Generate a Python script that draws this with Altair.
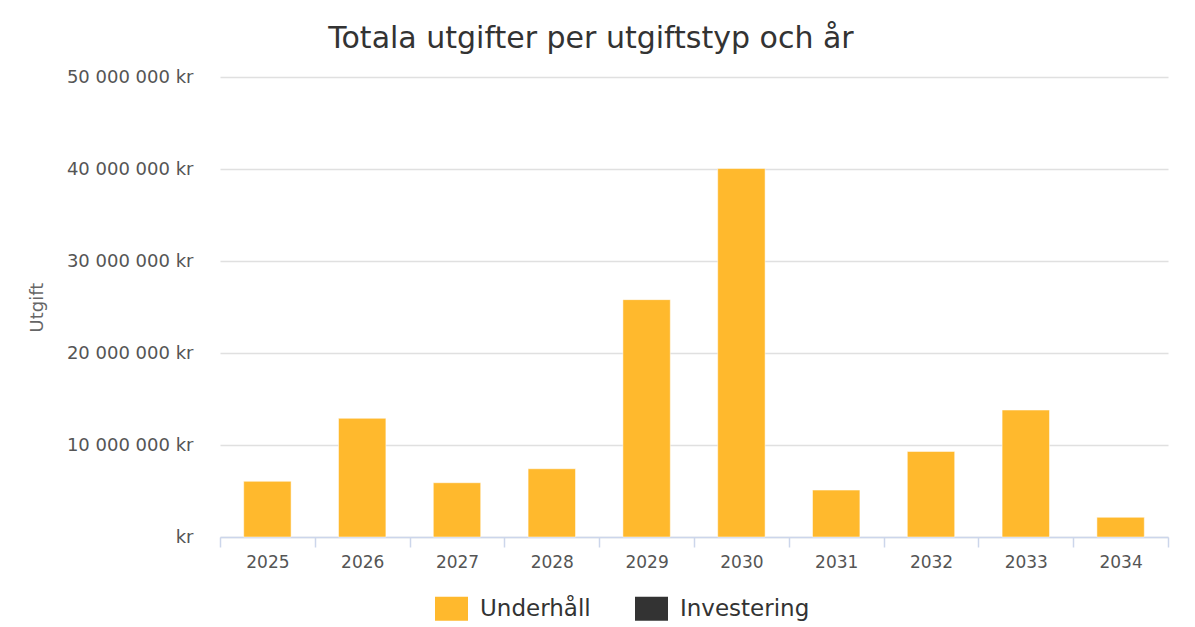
import altair as alt
import pandas as pd

years = ["2025", "2026", "2027", "2028", "2029", "2030", "2031", "2032", "2033", "2034"]
underhall = [6050000, 12900000, 5900000, 7420000, 25800000, 40050000, 5100000, 9300000, 13800000, 2140000]
series = ["Underhåll", "Investering"]
colors = ["#FFB92D", "#333333"]
y_ticks = [0, 10000000, 20000000, 30000000, 40000000, 50000000]

df = pd.DataFrame({"År": years, "Utgift": underhall, "Typ": ["Underhåll"] * len(years)})

FONT = "DejaVu Sans"
label_expr = "datum.value == 0 ? 'kr' : replace(format(datum.value, ',d'), /,/g, ' ') + ' kr'"

chart = alt.Chart(df).mark_bar(
    width=alt.RelativeBandSize(0.5), stroke="#ffffff", strokeWidth=1, strokeOpacity=0.5
).encode(
    x=alt.X(
        "År:N", sort=years,
        scale=alt.Scale(paddingInner=0, paddingOuter=0),
        axis=alt.Axis(
            title=None, labelAngle=0, tickBand="extent", tickSize=10, labelPadding=7,
            labelFontSize=17, labelColor="#555555", labelFont=FONT,
            domainColor="#ccd6eb", tickColor="#ccd6eb", domainWidth=1.5, tickWidth=1.5, grid=False,
        ),
    ),
    y=alt.Y(
        "Utgift:Q",
        scale=alt.Scale(domain=[0, 50000000], nice=False),
        axis=alt.Axis(
            values=y_ticks, labelExpr=label_expr, title="Utgift",
            titleFont=FONT, titleFontSize=18, titleFontWeight="normal", titleColor="#666666",
            titlePadding=20, labelFont=FONT, labelFontSize=18, labelColor="#555555",
            labelPadding=27, domain=False, ticks=False, gridColor="#e0e0e0", gridWidth=1.5,
        ),
    ),
    color=alt.Color(
        "Typ:N",
        scale=alt.Scale(domain=series, range=colors),
        legend=alt.Legend(
            title=None, orient="none", legendX=215, legendY=515, direction="horizontal",
            symbolType="M-1,-0.72H1V0.72H-1Z", symbolSize=1089, symbolStrokeWidth=0,
            symbolOpacity=1, labelFont=FONT, labelFontSize=23, labelColor="#333333",
            labelOffset=12, columnPadding=44,
        ),
    ),
).properties(
    width=948,
    height=460,
    autosize=alt.AutoSizeParams(type="none"),
    padding={"left": 212, "top": 69, "right": 19, "bottom": 110},
    title=alt.Title(
        "Totala utgifter per utgiftstyp och år",
        font=FONT, fontSize=30, fontWeight="normal", color="#333333", offset=14, dx=-103,
    ),
).configure_view(stroke=None)

chart.save("out.html", embed_options={"renderer": "svg", "actions": False})
